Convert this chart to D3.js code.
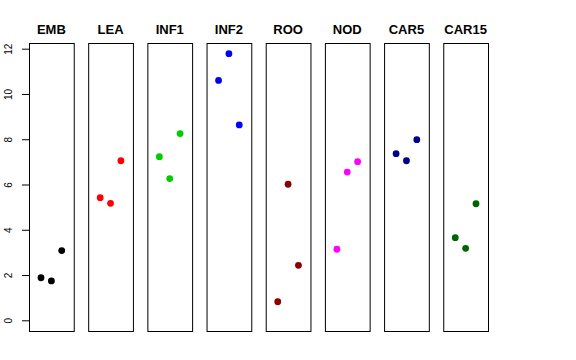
<!DOCTYPE html>
<html><head><meta charset="utf-8">
<script src="https://cdn.jsdelivr.net/npm/d3@7"></script>
<style>body{margin:0;background:#fff}svg{display:block}</style>
</head><body>
<svg id="c" width="576" height="360"></svg>
<script>
const categories = ["EMB","LEA","INF1","INF2","ROO","NOD","CAR5","CAR15"];
const colors = ["#000000","#FF0000","#00CD00","#0000FF","#8B0000","#FF00FF","#00008B","#006400"];
const rep1 = [1.88, 5.42, 7.23, 10.60, 0.82, 3.14, 7.36, 3.65];
const rep2 = [1.74, 5.17, 6.26, 11.78, 6.01, 6.55, 7.05, 3.18];
const rep3 = [3.08, 7.05, 8.25, 8.63, 2.43, 7.01, 7.98, 5.15];
const yTicks = [0, 2, 4, 6, 8, 10, 12];

const svg = d3.select("#c");
const panelTop = 43, panelBottom = 331;
const x = d3.scaleBand().domain(categories).range([29, 488]).paddingInner(0.244).paddingOuter(0);
const y = d3.scaleLinear().domain([0, 12]).range([320.3, 48.7]);
const bw = x.bandwidth();
const xi = d3.scaleLinear().domain([-0.16, 4.16]).range([0, bw]);

categories.forEach((cat, i) => {
  const g = svg.append("g").attr("transform", `translate(${x(cat)},0)`);
  g.append("rect").attr("x", 0.5).attr("y", panelTop + 0.5)
    .attr("width", bw).attr("height", panelBottom - panelTop)
    .attr("fill", "none").attr("stroke", "#000").attr("stroke-width", 1);
  g.append("text").attr("x", bw / 2).attr("y", 34)
    .attr("text-anchor", "middle").attr("font-family", "Liberation Sans, Arial, sans-serif")
    .attr("font-weight", "bold").attr("font-size", 13).text(cat);
  [rep1[i], rep2[i], rep3[i]].forEach((v, j) => {
    g.append("circle").attr("cx", xi(j + 1)).attr("cy", y(v)).attr("r", 3.4).attr("fill", colors[i]);
  });
});

const ax = svg.append("g").attr("transform", `translate(${x(categories[0]) + 0.5},0)`)
  .call(d3.axisLeft(y).tickValues(yTicks).tickSize(7.5).tickPadding(4).tickFormat(d3.format("d")));
ax.select(".domain").attr("stroke", "#000");
ax.selectAll(".tick line").attr("stroke", "#000");
ax.selectAll(".tick text")
  .attr("font-family", "Liberation Sans, Arial, sans-serif").attr("font-size", 10)
  .attr("fill", "#000")
  .attr("text-anchor", "middle").attr("dy", null).attr("x", null)
  .attr("transform", "translate(-21.5,0) rotate(-90)").attr("dominant-baseline", "central");
ax.selectAll(".domain").attr("d", `M0,${y(0)}V${y(12)}`);
</script>
</body></html>
